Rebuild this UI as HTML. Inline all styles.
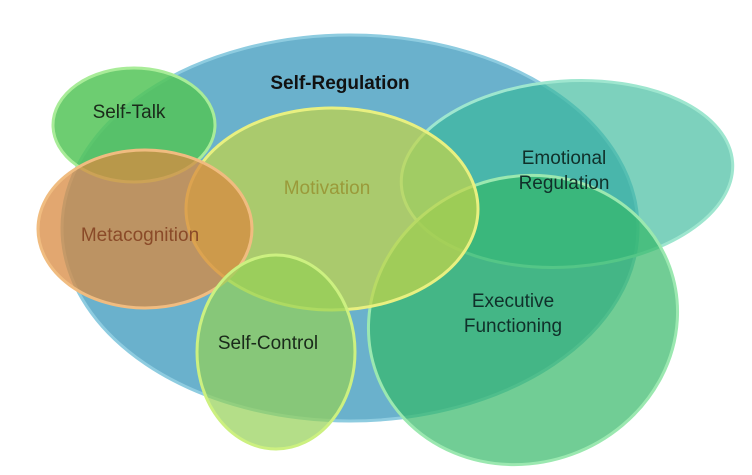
<!DOCTYPE html>
<html><head><meta charset="utf-8"><style>
html,body{margin:0;padding:0;background:#fff;width:752px;height:475px;overflow:hidden;}
svg{display:block;overflow:hidden}
text{font-family:"Liberation Sans",sans-serif;font-size:19px;text-anchor:middle;}
</style></head><body>
<svg width="752" height="475" viewBox="0 0 752 475">
<ellipse cx="350" cy="228" rx="288" ry="193" fill="#5aa8c6" fill-opacity="0.9" stroke="#8ecce0" stroke-width="3"/>
<ellipse cx="567" cy="174" rx="166" ry="93" transform="rotate(-4 567 174)" fill="#38b89a" fill-opacity="0.65" stroke="#9ee6cf" stroke-width="3"/>
<ellipse cx="523" cy="320" rx="156" ry="143" transform="rotate(-20 523 320)" fill="#34b868" fill-opacity="0.7" stroke="#9be8b0" stroke-width="3"/>
<ellipse cx="134" cy="125" rx="81" ry="57" fill="#54c458" fill-opacity="0.85" stroke="#a8ec98" stroke-width="3"/>
<ellipse cx="332" cy="209" rx="146" ry="101" fill="#c4d448" fill-opacity="0.72" stroke="#e8f080" stroke-width="3"/>
<ellipse cx="145" cy="229" rx="107" ry="79" fill="#d88a40" fill-opacity="0.75" stroke="#f0bc80" stroke-width="3"/>
<ellipse cx="276" cy="352" rx="79" ry="97" fill="#94d055" fill-opacity="0.7" stroke="#ccf080" stroke-width="3"/>
<text x="340" y="89" font-weight="bold" fill="#111">Self-Regulation</text>
<text x="129" y="118" fill="#1a2a1a">Self-Talk</text>
<text x="327" y="194" fill="#9a9a3a">Motivation</text>
<text x="140" y="241" fill="#8a4a28">Metacognition</text>
<text x="564" y="164" fill="#10302a">Emotional</text>
<text x="564" y="189" fill="#10302a">Regulation</text>
<text x="513" y="307" fill="#10302a">Executive</text>
<text x="513" y="332" fill="#10302a">Functioning</text>
<text x="268" y="349" fill="#1a2a1a">Self-Control</text>
</svg>
</body></html>
